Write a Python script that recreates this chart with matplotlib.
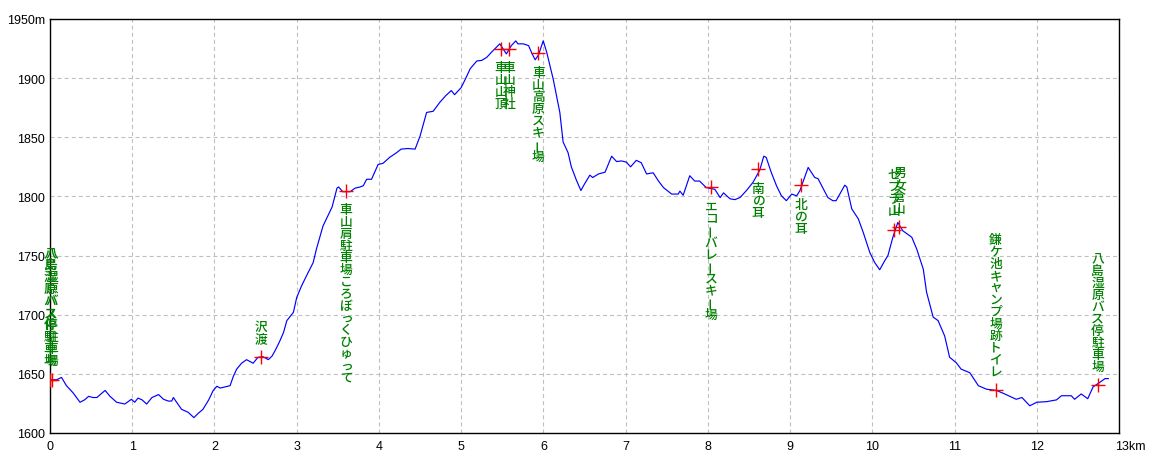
import matplotlib
matplotlib.use('Agg')
import matplotlib.pyplot as plt

# ---------------- data ----------------
dist_km = [0.00, 0.08, 0.14, 0.20, 0.28, 0.365, 0.42, 0.47, 0.52, 0.57, 0.62, 0.67, 0.73, 0.81, 0.91,
           0.99, 1.03, 1.07, 1.12, 1.175, 1.24, 1.32, 1.38, 1.44, 1.48, 1.50, 1.55, 1.60, 1.68, 1.75,
           1.80, 1.86, 1.93, 1.985, 2.03, 2.07, 2.19, 2.23, 2.27, 2.33, 2.39, 2.47, 2.53, 2.59, 2.655,
           2.70, 2.74, 2.79, 2.84, 2.88, 2.96, 3.00, 3.06, 3.12, 3.20, 3.24, 3.32, 3.43, 3.49, 3.51,
           3.56, 3.65, 3.71, 3.77, 3.81, 3.85, 3.91, 3.99, 4.05, 4.13, 4.215, 4.27, 4.35, 4.44, 4.50,
           4.58, 4.66, 4.74, 4.81, 4.88, 4.92, 5.00, 5.05, 5.11, 5.19, 5.25, 5.31, 5.37, 5.47, 5.55,
           5.61, 5.665, 5.69, 5.755, 5.82, 5.86, 5.90, 5.94, 5.998, 6.04, 6.12, 6.20, 6.24, 6.30, 6.34,
           6.40, 6.456, 6.50, 6.565, 6.60, 6.67, 6.75, 6.83, 6.89, 6.95, 7.01, 7.06, 7.13, 7.19, 7.255,
           7.335, 7.40, 7.46, 7.56, 7.64, 7.66, 7.70, 7.78, 7.84, 7.90, 7.98, 8.085, 8.15, 8.19, 8.27,
           8.33, 8.39, 8.47, 8.55, 8.63, 8.68, 8.71, 8.77, 8.835, 8.895, 8.955, 9.02, 9.08, 9.12, 9.22,
           9.30, 9.34, 9.46, 9.52, 9.56, 9.665, 9.69, 9.75, 9.83, 9.89, 9.97, 10.03, 10.09, 10.15, 10.19,
           10.25, 10.31, 10.37, 10.48, 10.54, 10.62, 10.66, 10.74, 10.80, 10.88, 10.94, 11.02, 11.08,
           11.185, 11.29, 11.39, 11.51, 11.61, 11.75, 11.82, 11.915, 12.00, 12.12, 12.24, 12.30, 12.42,
           12.46, 12.54, 12.62, 12.685, 12.77, 12.83, 12.87]

elev_m = [1645, 1645, 1647, 1640, 1634, 1626, 1628, 1631, 1630, 1630, 1633, 1636, 1631, 1626, 1624.5,
          1628.5, 1626, 1629.5, 1628, 1624.5, 1630, 1632.5, 1628.5, 1627, 1627, 1630, 1625, 1620, 1617.5, 1613,
          1616.5, 1620, 1628, 1636, 1639.5, 1638, 1640, 1648, 1654, 1659, 1662, 1659, 1664, 1664.5, 1662,
          1665, 1670, 1677, 1685, 1695, 1702, 1714.5, 1724.5, 1733, 1744, 1755.5, 1775, 1791, 1807, 1808,
          1804, 1804, 1807, 1808, 1809, 1814.5, 1814.5, 1827, 1828, 1833, 1837, 1840, 1840.5, 1840, 1851,
          1871, 1872, 1879.5, 1885, 1889.5, 1886, 1892, 1899, 1908, 1914.5, 1915, 1917.5, 1922, 1929, 1920.5,
          1927.5, 1931.5, 1929, 1929, 1927.5, 1921, 1915.5, 1919.5, 1931.5, 1922, 1899, 1871, 1846, 1837, 1825,
          1814, 1805, 1810.5, 1818, 1816, 1819, 1820.5, 1834, 1829.5, 1830, 1829, 1825, 1830.5, 1828.5, 1819,
          1820, 1813, 1807.5, 1802, 1802, 1804.5, 1801, 1817.5, 1813, 1813, 1807.5, 1806, 1799, 1803, 1798,
          1797.3, 1799, 1805, 1812, 1822, 1834, 1833, 1820.5, 1809, 1800.5, 1796.4, 1802, 1800.5, 1805, 1824.5,
          1816, 1815, 1799, 1796.4, 1796.4, 1809.5, 1808, 1789.5, 1781, 1769.5, 1752.5, 1744, 1738, 1745.5, 1750,
          1765.5, 1778, 1771, 1765.5, 1755.5, 1738.5, 1719, 1698, 1695, 1682, 1664, 1659.5, 1654,
          1651, 1640, 1637, 1636, 1633, 1628.5, 1630, 1623, 1626, 1626.5, 1628, 1631.5, 1631.5,
          1628.5, 1633, 1629, 1639, 1643, 1646, 1646]

wp_names = ['八島湿原バス停駐車場', '八島湿原バス停駐車場', '沢渡', '車山肩駐車場ころぼっくひゅって',
            '車山山頂', '車山神社', '車山高原スキー場', 'エコーバレースキー場', '南の耳', '北の耳',
            'ゼブラ山', '男女倉山', '鎌ケ池キャンプ場跡トイレ', '八島湿原バス停駐車場']
wp_km = [0.00, 0.02, 2.56, 3.60, 5.48, 5.58, 5.94, 8.04, 8.61, 9.13, 10.26, 10.33, 11.50, 12.74]
wp_elev = [1645, 1645, 1664, 1805, 1925, 1925, 1921, 1808, 1823, 1809.5, 1772, 1774, 1636, 1640.5]
wp_side = ['up', 'up', 'up', 'down', 'down', 'down', 'down', 'down', 'down', 'down',
           'up', 'up', 'up', 'up']

x_ticks = list(range(0, 14))
x_tick_labels = [str(i) for i in range(13)] + ['']
x_end_label = '13km'
y_ticks = [1600, 1650, 1700, 1750, 1800, 1850, 1900, 1950]
y_tick_labels = ['1600', '1650', '1700', '1750', '1800', '1850', '1900', '1950m']

# ---------------- drawing ----------------
plt.rcParams['lines.scale_dashes'] = False
tick_font = ['Liberation Sans Narrow', 'Liberation Sans', 'DejaVu Sans']
cjk_font = ['Noto Sans CJK JP', 'DejaVu Sans']

fig = plt.figure(figsize=(11.6, 4.64), dpi=100)
fig.patch.set_facecolor('white')
ax = fig.add_axes([50 / 1160, 30 / 464, 1069 / 1160, 414 / 464])

ax.plot(dist_km, elev_m, color='#0000ff', lw=0.85, zorder=3)
ax.plot(wp_km, wp_elev, ls='none', marker='+', ms=9.5, mew=1.0, color='#ff0000', zorder=5)

ax.set_xlim(0, 13)
ax.set_ylim(1600, 1950)
ax.set_xticks(x_ticks)
ax.set_xticklabels(x_tick_labels, family=tick_font)
ax.set_yticks(y_ticks)
ax.set_yticklabels(y_tick_labels, family=tick_font)
ax.tick_params(axis='both', length=0, labelsize=9, colors='black')
ax.tick_params(axis='x', pad=5)
ax.tick_params(axis='y', pad=3.5)
ax.annotate(x_end_label, xy=(13, 1600), xycoords='data', xytext=(-4, -7),
            textcoords='offset pixels', ha='left', va='top', fontsize=9,
            family=tick_font, annotation_clip=False)

ax.set_axisbelow(True)
ax.grid(True, color='#c0c0c0', lw=0.8, ls=(0, (2.9, 2.2)))
for sp in ax.spines.values():
    sp.set_color('black')
    sp.set_linewidth(1.0)

pitch = 12
gap = 19
for name, xk, ye, side in zip(wp_names, wp_km, wp_elev, wp_side):
    chars = list(name)
    n = len(chars)
    for i, ch in enumerate(chars):
        if side == 'down':
            dy = -(gap + i * pitch)
        else:
            dy = gap + (n - 1 - i) * pitch
        rot = 90 if ch == 'ー' else 0
        ax.annotate(ch, xy=(xk, ye), xycoords='data', xytext=(0, dy),
                    textcoords='offset pixels', ha='center', va='center',
                    fontsize=9.2, fontweight='medium', color='#008000', family=cjk_font,
                    rotation=rot, zorder=6, annotation_clip=False)

fig.savefig('out.png', dpi=100, facecolor='white')
